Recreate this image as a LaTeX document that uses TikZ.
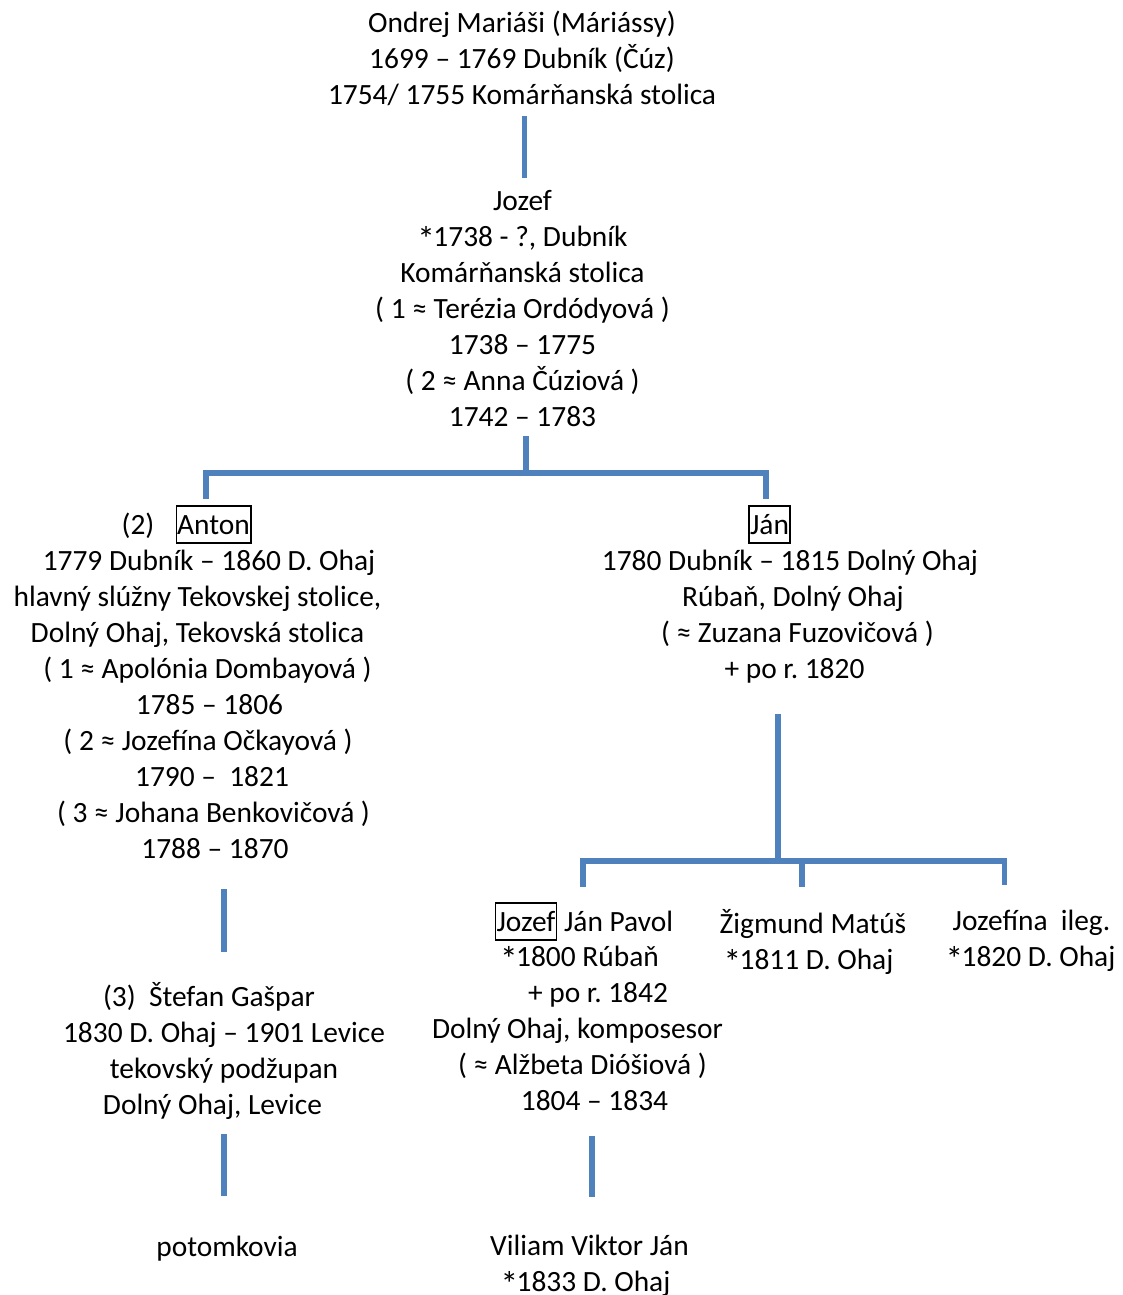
\documentclass[tikz,border=0pt]{standalone}
\usepackage{fontspec}
\setmainfont{Carlito}
\usepackage{tikz}
\usetikzlibrary{positioning}
\frenchspacing
\definecolor{treeblue}{RGB}{79,129,189}
\newcommand\born{\raisebox{-2.6pt}{\scalebox{1.2}{*}}\kern-0.8pt}
\tikzset{
    person/.style={font=\fontsize{14.7}{18}\selectfont, align=center, inner sep=0pt, anchor=north, yshift=10.9pt, execute at begin node=\strut},
    tag/.style={font=\fontsize{14.7}{18}\selectfont, inner sep=0pt, anchor=base},
    namebox/.style={tag, draw, line width=0.65pt, inner xsep=0.5pt, inner ysep=0pt, text height=14pt, text depth=4.5pt},
    line/.style={draw=treeblue, line width=2.85pt}
}

\begin{document}
\begin{tikzpicture}[x=0.5pt, y=-0.5pt]
    \useasboundingbox (0,0) rectangle (1123,1295);

    % Ancestor and his son
    \node [person] (ondrej) at (522,32) {Ondrej Mariáši (Máriássy)\\1699 – 1769 Dubník (Čúz)\\1754/ 1755 Komárňanská stolica};
    \node [person] (jozef) at (522.5,212) {Jozef\\\born1738 - ?, Dubník\\Komárňanská stolica\\( 1 ≈ Terézia Ordódyová )\\1738 – 1775\\( 2 ≈ Anna Čúziová )\\1742 – 1783};

    % Second generation
    \node [namebox] (anton) at (213.5,534) {Anton};
    \node [tag] (anton-nr) at (138,534) {(2)};
    \node [person] (anton-info) at (197.5,571) {\hspace*{11.5pt}1779 Dubník – 1860 D. Ohaj\\hlavný slúžny Tekovskej stolice,\\Dolný Ohaj, Tekovská stolica\hspace*{5pt}\\\hspace*{10pt}( 1 ≈ Apolónia Dombayová )\\\hspace*{12pt}1785 – 1806\\\hspace*{10.5pt}( 2 ≈ Jozefína Očkayová )\\\hspace*{14.5pt}1790 –\ \ 1821\\\hspace*{16pt}( 3 ≈ Johana Benkovičová )\\\hspace*{17.5pt}1788 – 1870};

    \node [namebox] (jan) at (769.5,534) {Ján};
    \node [person] (jan-info) at (790,571) {1780 Dubník – 1815 Dolný Ohaj\\\hspace*{3pt}Rúbaň, Dolný Ohaj\\\hspace*{7.5pt}( ≈ Zuzana Fuzovičová )\\\hspace*{4.5pt}+ po r. 1820};

    % Children of Ján
    \node [namebox] (jozefc) at (526,931) {Jozef};
    \node [tag, anchor=base west] (jozefc-names) at (jozefc.base east) {\ Ján Pavol};
    \node [person] (jozefc-info) at (577.5,967) {\hspace*{2pt}\born1800 Rúbaň\\\hspace*{20.5pt}+ po r. 1842\\Dolný Ohaj, komposesor\\\hspace*{5pt}( ≈ Alžbeta Dióšiová )\\\hspace*{17pt}1804 – 1834};
    \node [person] (zigmund) at (813,931) {Žigmund Matúš\\\born1811 D. Ohaj\hspace*{4.5pt}};
    \node [person] (jozefina) at (1030.5,931) {\hspace*{1pt}Jozefína\ \ ileg.\\\born1820 D. Ohaj};

    % Son of Anton and descendants
    \node [person] (stefan) at (224,1004) {(3)\ \ Štefan Gašpar\hspace*{15pt}\\1830 D. Ohaj – 1901 Levice\\tekovský podžupan\\Dolný Ohaj, Levice\hspace*{11.5pt}};
    \node [person] (potomkovia) at (227,1253) {potomkovia};
    \node [person] (viliam) at (589.5,1256) {Viliam Viktor Ján\\\born1833 D. Ohaj\hspace*{4pt}};

    % Connector ends
    \coordinate (ondrej-out) at (524.5,116);
    \coordinate (jozef-in) at (524.5,178);
    \coordinate (jozef-out) at (526,436);
    \coordinate (jozef-bar) at (526,473);
    \coordinate (anton-in) at (206,499);
    \coordinate (jan-in) at (766,499);
    \coordinate (anton-out) at (224,889);
    \coordinate (stefan-in) at (224,952);
    \coordinate (jan-out) at (778,714);
    \coordinate (jan-bar) at (778,861);
    \coordinate (jozefc-in) at (583,887);
    \coordinate (zigmund-in) at (802,887);
    \coordinate (jozefina-in) at (1004.5,885);
    \coordinate (stefan-out) at (224,1134);
    \coordinate (potomkovia-in) at (224,1196);
    \coordinate (jozefc-out) at (592,1136);
    \coordinate (viliam-in) at (592,1197);

    % Connections
    \path [line] (ondrej-out) -- (jozef-in);
    \path [line] (jozef-out) -- (jozef-bar);
    \path [line] (anton-in) |- (jozef-bar) -| (jan-in);
    \path [line] (anton-out) -- (stefan-in);
    \path [line] (jan-out) -- (jan-bar);
    \path [line] (jozefc-in) |- (jan-bar) -| (jozefina-in);
    \path [line] (jan-bar -| zigmund-in) -- (zigmund-in);
    \path [line] (stefan-out) -- (potomkovia-in);
    \path [line] (jozefc-out) -- (viliam-in);
\end{tikzpicture}
\end{document}
